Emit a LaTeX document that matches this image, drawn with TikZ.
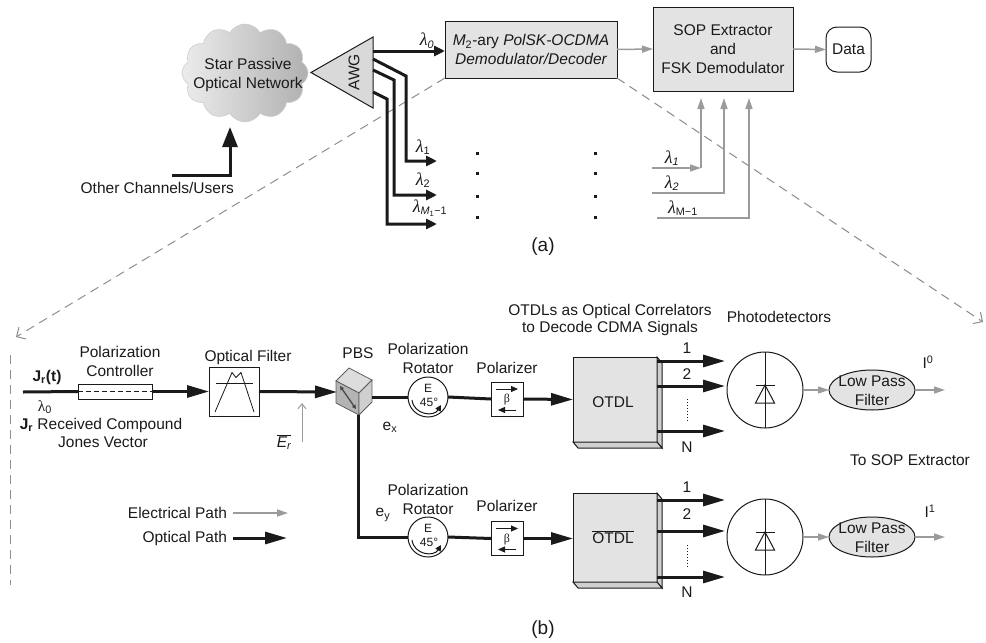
\documentclass[tikz,border=0pt]{standalone}
\usepackage{fontspec}
\setmainfont{Liberation Sans}
\newfontfamily\greekserif{Liberation Serif}
\usetikzlibrary{arrows.meta,shapes.symbols,shapes.geometric,calc}

\definecolor{ink}{HTML}{1A1A1A}
\definecolor{boxgray}{HTML}{E3E3E3}
\definecolor{sidegray}{HTML}{CFCFCF}
\definecolor{cubegray}{HTML}{B4B4B4}
\definecolor{elgray}{HTML}{9B9B9B}
\definecolor{dashgray}{HTML}{8E8E8E}

\newcommand{\lamit}{{\greekserif\itshape\fontsize{18}{18}\selectfont λ}}
\newcommand{\lamup}{{\greekserif λ}}

\begin{document}
\begin{tikzpicture}[x=1pt,y=-1pt,
  font=\fontsize{15.5}{19}\selectfont, text=ink,
  every node/.style={inner sep=0pt, outer sep=0pt},
  optic/.style={draw=ink, line width=3pt, -{Triangle[length=22pt,width=12pt]}},
  opticsm/.style={draw=ink, line width=3pt, -{Triangle[length=11pt,width=10pt]}},
  feed/.style={draw=ink, line width=3pt, -{Triangle[length=20pt,width=15pt]}},
  opticline/.style={draw=ink, line width=3pt},
  elec/.style={draw=elgray, line width=1.5pt, -{Triangle[length=11pt,width=7pt]}},
  thinup/.style={draw=elgray, line width=1pt, -{Straight Barb[length=5pt,width=8pt]}},
  zoomline/.style={draw=dashgray, line width=1pt, dash pattern=on 9pt off 6pt, -{Straight Barb[length=7pt,width=14pt]}},
  dashline/.style={draw=dashgray, line width=1pt, dash pattern=on 9pt off 6pt},
  grayblock/.style={draw=ink, line width=1pt, fill=boxgray, align=center},
  whitebox/.style={draw=ink, line width=1pt, fill=white},
  rotor/.style={circle, draw=ink, line width=1pt, fill=white, minimum size=40pt},
  pdet/.style={circle, draw=ink, line width=1pt, fill=white, minimum size=76pt},
  lpf/.style={ellipse, draw=ink, line width=1pt, fill=boxgray, minimum width=86pt, minimum height=40pt},
  small/.style={font=\fontsize{12}{12}\selectfont},
  big/.style={font=\fontsize{19}{22}\selectfont},
  lamlbl/.style={font=\fontsize{15.5}{19}\selectfont},
  dot/.style={fill=ink},
]
\useasboundingbox (0,0) rectangle (986,643);

% ================= (a) receiver chain =================
% blocks
\node[grayblock, minimum width=172pt, minimum height=57pt] (demod) at (531,49.5)
  {{\itshape M}\textsubscript{2}-ary {\itshape PolSK-OCDMA}\\{\itshape Demodulator/Decoder}};
\node[grayblock, minimum width=140pt, minimum height=84pt] (sop) at (723,49)
  {SOP Extractor\\and\\FSK Demodulator};
\node[whitebox, rounded corners=11pt, minimum width=45pt, minimum height=45pt] (data) at (848.5,49.5) {Data};

% zoom-in guides towards part (b)
\coordinate (zl) at (16,337);
\coordinate (zr) at (983,322);
\draw[zoomline] (demod.south west) -- (zl);
\draw[zoomline] (demod.south east) -- (zr);

% star passive optical network
\node[cloud, cloud puffs=12, cloud puff arc=120, cloud ignores aspect,
      minimum width=126pt, minimum height=98pt, draw=gray!40, line width=0.6pt,
      left color=gray!15, right color=gray!62] (spon) at (245,73) {};
\node[align=center] (spontxt) at (248,74.5) {Star Passive\\Optical Network};

\coordinate (users) at (172,175);
\coordinate (sponin) at (230,127);
\draw[feed] (users) -| (sponin);
\node[anchor=east] (userstxt) at (234,188) {Other Channels/Users};

% arrayed waveguide grating
\coordinate (awgtip) at (311,72.5);
\coordinate (awgtop) at (373,37);
\coordinate (awgbot) at (373,108);
\filldraw[fill=sidegray!80, draw=ink, line width=1pt] (awgtip) -- (awgtop) -- (awgbot) -- cycle;
\node[rotate=90] (awgtxt) at (354,72.5) {AWG};

% AWG outputs
\coordinate (a0) at (373,51);
\draw[opticsm] (a0) -- (a0 -| demod.west);
\node[lamlbl] (l0) at (427,41) {\lamit\textsubscript{\itshape 0}};

\coordinate (a1) at (373,59);  \coordinate (e1) at (437,161);
\coordinate (a2) at (373,70);  \coordinate (e2) at (437,195);
\coordinate (a3) at (373,92);  \coordinate (e3) at (437,224);
\draw[opticsm] (a1) -- (406,76) -- (406,161) -- (e1);
\draw[opticsm] (a2) -- (394,80) -- (394,195) -- (e2);
\draw[opticsm] (a3) -- (387,99) -- (387,224) -- (e3);
\node[lamlbl] (l1) at (423,147) {\lamit\textsubscript{1}};
\node[lamlbl] (l2) at (423,180) {\lamit\textsubscript{2}};
\node[lamlbl] (l3) at (430,208) {\lamit\textsubscript{\itshape M\textsubscript{\upshape 1}\upshape −1}};

% continuation dots
\foreach \yy in {153,173,196,217}{
  \fill[dot] (475.5,\yy-1.5) rectangle ++(3,3);
  \fill[dot] (593.5,\yy-1.5) rectangle ++(3,3);
}

% remaining wavelengths into the SOP extractor
\coordinate (r1s) at (652,168); \coordinate (r1c) at (701,168);
\coordinate (r2s) at (652,193); \coordinate (r2c) at (724,193);
\coordinate (r3s) at (657,218); \coordinate (r3c) at (749,218);
\draw[elec] (r1s) -- (r1c);
\draw[elec, shorten >=7pt] (r1c) -- (r1c |- sop.south);
\draw[elec, shorten >=7pt] (r2s) -- (r2c) -- (r2c |- sop.south);
\draw[elec, shorten >=7pt] (r3s) -- (r3c) -- (r3c |- sop.south);
\node[lamlbl] (rl1) at (672,158) {\lamit\textsubscript{\itshape 1}};
\node[lamlbl] (rl2) at (672,183) {\lamit\textsubscript{\itshape 2}};
\node[lamlbl] (rl3) at (683,208) {\lamit\textsubscript{M−1}};

\draw[elec] (demod.east) -- (sop.west);
\draw[elec] (sop.east) -- (data.west);

\node[big] (capa) at (543,247) {(a)};

% ================= (b) demodulator / decoder =================
\coordinate (lt) at (10,355);
\coordinate (lb) at (10,585);
\draw[dashline] (lt) -- (lb);

% input and polarization controller
\coordinate (jin) at (23,392);
\node[whitebox, minimum width=74pt, minimum height=15pt] (pc) at (115,391.5) {};
\draw[ink, line width=0.8pt, dash pattern=on 5pt off 3pt] (pc.west) -- (pc.east);
\node[align=center] (pctxt) at (120,361) {Polarization\\Controller};
\node (jrt) at (47,377) {\bfseries J\textsubscript{r}(t)};
\node (lam0) at (45,407) {\lamup\textsubscript{0}};
\node (jrtxt) at (101,425) {{\bfseries J\textsubscript{r}} Received Compound};
\node (jones) at (103,442) {Jones Vector};

% optical filter
\node[whitebox, minimum width=50pt, minimum height=49pt] (filt) at (234,391.5) {};
\node (filttxt) at (248,357) {Optical Filter};
\draw[ink, line width=0.8pt] ($(filt)+(-18,-8.5)$) -- ($(filt)+(19,-8.5)$);
\draw[ink, line width=0.8pt] ($(filt)+(-19,20.5)$) -- ($(filt)+(-2,-19)$) -- ($(filt)+(2,-14)$)
  -- ($(filt)+(7,-19)$) -- ($(filt)+(20,20.5)$);

\draw[opticline] (jin) -- (pc.west);
\draw[optic] (pc.east) -- (filt.west);

% polarization beam splitter cube
\coordinate (pA) at (336,381);
\coordinate (pB) at (349,368);
\coordinate (pC) at (372,380);
\coordinate (pD) at (359,393);
\coordinate (pA2) at (336,403);
\coordinate (pC2) at (372,402);
\coordinate (pD2) at (359,415);
\filldraw[fill=sidegray!70, draw=ink!70, line width=0.8pt] (pA) -- (pB) -- (pC) -- (pD) -- cycle;
\filldraw[fill=cubegray, draw=ink!70, line width=0.8pt] (pA) -- (pD) -- (pD2) -- (pA2) -- cycle;
\filldraw[fill=sidegray, draw=ink!70, line width=0.8pt] (pD) -- (pC) -- (pC2) -- (pD2) -- cycle;
\draw[ink!80, line width=1.3pt, {Triangle[length=4pt,width=4pt]}-{Triangle[length=4pt,width=4pt]}]
  ($(pA)+(4,5)$) -- ($(pD2)+(-3,-6)$);
\node (pbstxt) at (358,353) {PBS};
\coordinate (pbsin) at (337,392);
\coordinate (pbsout) at (372,397);
\coordinate (pbsdown) at (358,415);
\draw[optic] (filt.east) -- (pbsin);

% field label
\coordinate (erb) at (302,442);
\coordinate (ert) at (302,403);
\draw[thinup] (erb) -- (ert);
\node (ertxt) at (284,442) {$\overline{\hbox{\itshape E\textsubscript{r}}}$};

% ---- x branch ----
\node[rotor] (rot1) at (428,397) {};
\node[small] (rot1e) at ($(rot1)+(0,-9)$) {E};
\node[small] (rot1d) at ($(rot1)+(1,5)$) {45°};
\draw[ink, line width=1pt, -{Triangle[length=6pt,width=6pt]}]
  ($(rot1)+(-16,3)$) .. controls ($(rot1)+(-14,18)$) and ($(rot1)+(6,20)$) .. ($(rot1)+(13,8)$);
\node[align=center] (rot1txt) at (428,358.5) {Polarization\\Rotator};
\node (ex) at (390,427) {e\textsubscript{x}};

\node[whitebox, minimum width=32pt, minimum height=34pt] (pol1) at (507,399) {};
\draw[ink, line width=1pt, -{Triangle[length=7pt,width=6pt]}] ($(pol1)+(-11,-10)$) -- ($(pol1)+(11,-10)$);
\draw[ink, line width=1pt, -{Triangle[length=7pt,width=6pt]}] ($(pol1)+(9,11)$) -- ($(pol1)+(-9,11)$);
\node[small] (beta1) at ($(pol1)+(0,1)$) {\greekserif β};
\node (pol1txt) at (507,368) {Polarizer};

\draw[opticline] (pbsout) -- (rot1.west);
\draw[opticline] (rot1.east) -- (pol1.west);

\node[align=center, font=\fontsize{15.5}{17}\selectfont] (otdltxt) at (610,319.5)
  {OTDLs as Optical Correlators\\to Decode CDMA Signals};
\node (pdtxt) at (779,317) {Photodetectors};

% OTDL (x)
\node[grayblock, minimum width=84pt, minimum height=85pt] (otdl1) at (615,399.5) {};
\filldraw[fill=sidegray, draw=ink, line width=1pt] (otdl1.north east) -- ++(5,6) -- ($(otdl1.south east)+(5,6)$) -- (otdl1.south east) -- cycle;
\filldraw[fill=sidegray, draw=ink, line width=1pt] (otdl1.south west) -- ++(5,6) -- ($(otdl1.south east)+(5,6)$) -- (otdl1.south east) -- cycle;
\node (otdl1txt) at (613,402) {OTDL};
\draw[optic] (pol1.east) -- (otdl1.west);

\coordinate (o11) at (725,361);
\coordinate (o12) at (725,386);
\coordinate (o13) at (725,431);
\draw[optic] (otdl1.east |- o11) -- (o11);
\draw[optic] (otdl1.east |- o12) -- (o12);
\draw[optic] (otdl1.east |- o13) -- (o13);
\node (n11) at (687,348) {1};
\node (n12) at (687,374) {2};
\node (n13) at (687,447) {N};
\draw[ink, line width=1pt, dash pattern=on 1pt off 2pt] (687,399) -- (687,421);

\node[pdet] (pd1) at (765,390) {};
\draw[ink, line width=1pt] (pd1.north) -- (pd1.south);
\draw[ink, line width=1pt] ($(pd1)+(-9.5,-5)$) -- ($(pd1)+(9.5,-5)$);
\draw[ink, line width=1pt] ($(pd1)+(-9.5,13)$) -- ($(pd1)+(9.5,13)$) -- ($(pd1)+(0,-5)$) -- cycle;

\node[lpf] (lpf1) at (872,390) {};
\node[align=center] (lpf1txt) at (872,390.5) {Low Pass\\Filter};
\coordinate (out1) at (945,390);
\draw[elec] (pd1.east) -- (lpf1.west);
\draw[elec] (lpf1.east) -- (out1);
\node (i0) at (928,362) {I\textsuperscript{0}};

\node (tosop) at (910,460) {To SOP Extractor};

% ---- y branch ----
\node[rotor] (rot2) at (428,537) {};
\node[small] (rot2e) at ($(rot2)+(0,-9)$) {E};
\node[small] (rot2d) at ($(rot2)+(1,5)$) {45°};
\draw[ink, line width=1pt, -{Triangle[length=6pt,width=6pt]}]
  ($(rot2)+(-16,3)$) .. controls ($(rot2)+(-14,18)$) and ($(rot2)+(6,20)$) .. ($(rot2)+(13,8)$);
\node[align=center] (rot2txt) at (428,499.5) {Polarization\\Rotator};
\node (ey) at (383,515) {e\textsubscript{y}};

\node[whitebox, minimum width=32pt, minimum height=34pt] (pol2) at (507,538.5) {};
\draw[ink, line width=1pt, -{Triangle[length=7pt,width=6pt]}] ($(pol2)+(-11,-10)$) -- ($(pol2)+(11,-10)$);
\draw[ink, line width=1pt, -{Triangle[length=7pt,width=6pt]}] ($(pol2)+(9,11)$) -- ($(pol2)+(-9,11)$);
\node[small] (beta2) at ($(pol2)+(0,1)$) {\greekserif β};
\node (pol2txt) at (507,506) {Polarizer};

\draw[opticline] (pbsdown) |- (rot2.west);
\draw[opticline] (rot2.east) -- (pol2.west);

% OTDL (y, complementary)
\node[grayblock, minimum width=84pt, minimum height=89pt] (otdl2) at (615,537.5) {};
\filldraw[fill=sidegray, draw=ink, line width=1pt] (otdl2.north east) -- ++(5,6) -- ($(otdl2.south east)+(5,6)$) -- (otdl2.south east) -- cycle;
\filldraw[fill=sidegray, draw=ink, line width=1pt] (otdl2.south west) -- ++(5,6) -- ($(otdl2.south east)+(5,6)$) -- (otdl2.south east) -- cycle;
\node (otdl2txt) at (613,537) {$\overline{\hbox{OTDL}}$};
\draw[optic] (pol2.east) -- (otdl2.west |- pol2.east);

\coordinate (o21) at (725,500);
\coordinate (o22) at (725,531);
\coordinate (o23) at (725,577);
\draw[optic] (otdl2.east |- o21) -- (o21);
\draw[optic] (otdl2.east |- o22) -- (o22);
\draw[optic] (otdl2.east |- o23) -- (o23);
\node (n21) at (687,487) {1};
\node (n22) at (687,514) {2};
\node (n23) at (687,592) {N};
\draw[ink, line width=1pt, dash pattern=on 1pt off 2pt] (687,545) -- (687,567);

\node[pdet] (pd2) at (765,537) {};
\draw[ink, line width=1pt] (pd2.north) -- (pd2.south);
\draw[ink, line width=1pt] ($(pd2)+(-9.5,-5)$) -- ($(pd2)+(9.5,-5)$);
\draw[ink, line width=1pt] ($(pd2)+(-9.5,13)$) -- ($(pd2)+(9.5,13)$) -- ($(pd2)+(0,-5)$) -- cycle;

\node[lpf] (lpf2) at (872,537) {};
\node[align=center] (lpf2txt) at (872,537.5) {Low Pass\\Filter};
\coordinate (out2) at (945,537);
\draw[elec] (pd2.east) -- (lpf2.west);
\draw[elec] (lpf2.east) -- (out2);
\node (i1) at (930,511) {I\textsuperscript{1}};

% legend
\coordinate (ela) at (233,513); \coordinate (elb) at (288,513);
\coordinate (opa) at (233,538); \coordinate (opb) at (287,538);
\node[anchor=east] (eltxt) at (227,513) {Electrical Path};
\node[anchor=east] (optxt) at (227,538) {Optical Path};
\draw[elec] (ela) -- (elb);
\draw[optic] (opa) -- (opb);

\node[big] (capb) at (543,630) {(b)};
\end{tikzpicture}
\end{document}
